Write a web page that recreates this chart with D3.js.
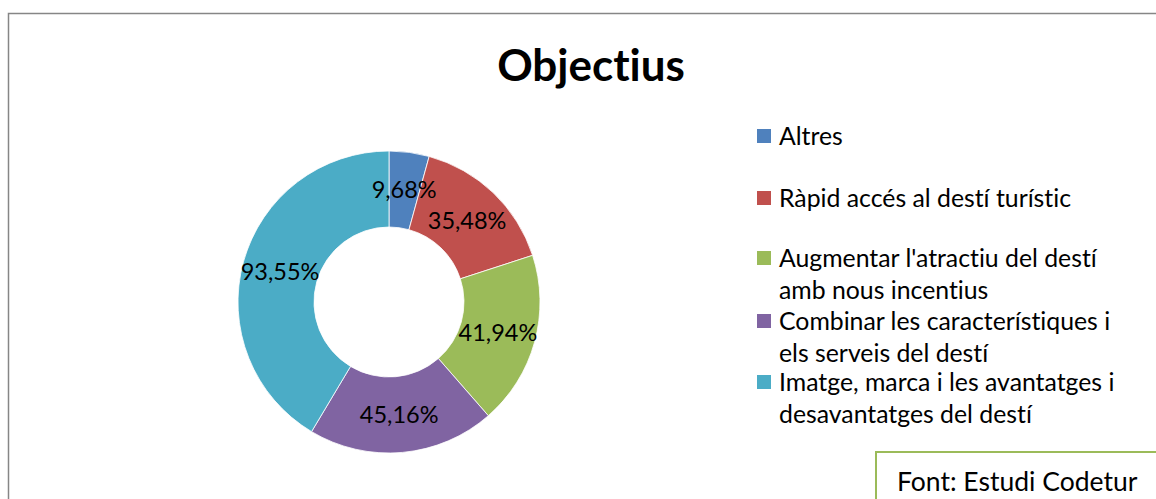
<!DOCTYPE html>
<html>
<head>
<meta charset="utf-8">
<script src="https://cdn.jsdelivr.net/npm/d3@7"></script>
<style>
  html, body { margin: 0; padding: 0; background: #fff; }
  svg { display: block; font-family: Lato, "Open Sans", sans-serif; font-variant-ligatures: none; }
</style>
</head>
<body>
<svg id="chart" width="1156" height="499"></svg>
<script>
// --- Data ---
const categories = [
  "Altres",
  "Ràpid accés al destí turístic",
  "Augmentar l'atractiu del destí amb nous incentius",
  "Combinar les característiques i els serveis del destí",
  "Imatge, marca i les avantatges i desavantatges del destí"
];
const values = [9.68, 35.48, 41.94, 45.16, 93.55];
const colors = ["#4f81bd", "#c0504d", "#9bbb59", "#8064a2", "#4bacc6"];
// legend lines as wrapped in the picture
const legendLines = [
  ["Altres"],
  ["Ràpid accés al destí turístic"],
  ["Augmentar l'atractiu del destí", "amb nous incentius"],
  ["Combinar les característiques i", "els serveis del destí"],
  ["Imatge, marca i les avantatges i", "desavantatges del destí"]
];
const title = "Objectius";
const source = "Font: Estudi Codetur";

const svg = d3.select("#chart");

// --- Chart frame ---
svg.append("rect")
  .attr("x", 8.5).attr("y", 13.5)
  .attr("width", 1200).attr("height", 600)
  .attr("fill", "#fff")
  .attr("stroke", "#868686")
  .attr("stroke-width", 1.5);

svg.append("text")
  .attr("x", 591).attr("y", 81)
  .attr("text-anchor", "middle")
  .attr("font-size", 44)
  .attr("font-weight", "bold")
  .text(title);

// --- Doughnut ---
const cx = 389, cy = 302, rOut = 151, rIn = 75;
const g = svg.append("g").attr("transform", `translate(${cx},${cy})`);

const pie = d3.pie().sort(null).value((d) => d);
const arc = d3.arc().innerRadius(rIn).outerRadius(rOut);
const labelArc = d3.arc().innerRadius((rIn + rOut) / 2).outerRadius((rIn + rOut) / 2);
const fmt = (v) => v.toFixed(2).replace(".", ",") + "%";

const arcs = pie(values);

g.selectAll("path")
  .data(arcs)
  .join("path")
  .attr("d", arc)
  .attr("fill", (d, i) => colors[i])
  .attr("stroke", "#fff")
  .attr("stroke-width", 0.8);

g.selectAll("text")
  .data(arcs)
  .join("text")
  .attr("transform", (d) => `translate(${labelArc.centroid(d)})`)
  .attr("text-anchor", "middle")
  .attr("dy", "0.36em")
  .attr("font-size", 23.5)
  .attr("fill", "#000")
  .text((d) => fmt(d.data));

// --- Legend ---
const legendY = [136, 198, 258, 321, 382];
const lineH = 32;
const legend = svg.append("g");
legendLines.forEach((lines, i) => {
  legend.append("rect")
    .attr("x", 757).attr("y", legendY[i] - 7)
    .attr("width", 14).attr("height", 14)
    .attr("fill", colors[i]);
  lines.forEach((t, j) => {
    legend.append("text")
      .attr("x", 779)
      .attr("y", legendY[i] + j * lineH)
      .attr("dy", "0.36em")
      .attr("font-size", 24.8)
      .attr("fill", "#000")
      .text(t);
  });
});

// --- Source box ---
svg.append("rect")
  .attr("x", 876).attr("y", 452)
  .attr("width", 320).attr("height", 100)
  .attr("fill", "#fff")
  .attr("stroke", "#9bbb59")
  .attr("stroke-width", 2);
svg.append("text")
  .attr("x", 897).attr("y", 491)
  .attr("font-size", 26.5)
  .attr("fill", "#000")
  .text(source);
</script>
</body>
</html>
